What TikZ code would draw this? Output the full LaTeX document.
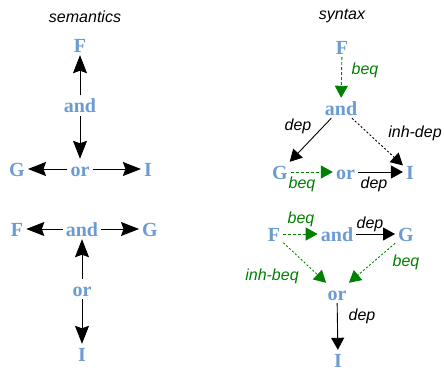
\documentclass[tikz,border=0pt]{standalone}
\usepackage{fontspec}
\setmainfont{Liberation Serif}
\setsansfont{Liberation Sans}
\usetikzlibrary{arrows.meta}
\definecolor{nodeblue}{RGB}{108,155,210}
\definecolor{beqgreen}{RGB}{0,128,0}
\tikzset{
  term/.style={anchor=base, inner sep=3pt, text height=14pt, text depth=0pt,
    text=nodeblue, font=\fontsize{20}{24}\selectfont\bfseries},
  lab/.style={anchor=base, inner sep=0pt, font=\sffamily\itshape\fontsize{16}{19}\selectfont},
  glab/.style={lab, text=beqgreen},
  sem/.style={line width=0.9pt, -{Stealth[length=18pt, width=14pt, inset=2.5pt]}},
  syn/.style={line width=0.9pt, -{Triangle[length=12pt, width=13pt]}},
  gsyn/.style={syn, beqgreen, dash pattern=on 3pt off 2pt},
  dsyn/.style={syn, dash pattern=on 2pt off 2pt}
}
\begin{document}
\begin{tikzpicture}[x=1pt, y=-1pt]
\useasboundingbox (0,0) rectangle (444,370);
% titles
\node[lab] (tsem) at (85,22) {semantics};
\node[lab] (tsyn) at (342,19) {syntax};
% semantics top
\node[term] (sF) at (80,52) {F};
\node[term] (sand) at (80,112.5) {and};
\node[term] (sor) at (80,176) {or};
\node[term] (sG) at (17,176) {G};
\node[term] (sI) at (148,176) {I};
\draw[sem] (sand) -- (sF);
\draw[sem] (sand) -- (sor);
\draw[sem] (sor) -- (sG);
\draw[sem] (sor) -- (sI);
% semantics bottom
\node[term] (bF) at (17,236) {F};
\node[term] (band) at (82,236) {and};
\node[term] (bG) at (150,236) {G};
\node[term] (bor) at (82,296) {or};
\node[term] (bI) at (82,361) {I};
\draw[sem] (band) -- (bF);
\draw[sem] (band) -- (bG);
\draw[sem] (bor) -- (band);
\draw[sem] (bor) -- (bI);
% syntax top
\node[term] (yF) at (342,54) {F};
\node[term] (yand) at (341,115) {and};
\node[term] (yG) at (280,179) {G};
\node[term] (yor) at (345.5,179) {or};
\node[term] (yI) at (410,179) {I};
\draw[gsyn] (yF) -- (yand);
\draw[syn] (yand) -- (yG);
\draw[dsyn] (yand) -- (yI);
\draw[gsyn] (yG) -- (yor);
\draw[syn] (yor) -- (yI);
\node[glab] (l1) at (365,74) {beq};
\node[lab] (l2) at (298,130) {dep};
\node[lab] (l3) at (415,137) {inh-dep};
\node[glab] (l4) at (302,188) {beq};
\node[lab] (l5) at (374,188) {dep};
% syntax bottom
\node[term] (zF) at (274,241) {F};
\node[term] (zand) at (337,241) {and};
\node[term] (zG) at (406,241) {G};
\node[term] (zor) at (337,300) {or};
\node[term] (zI) at (338,367) {I};
\draw[gsyn] (zF) -- (zand);
\draw[syn] (zand) -- (zG);
\draw[gsyn, dash pattern=on 2pt off 2pt] (zF) -- (zor);
\draw[gsyn, dash pattern=on 2pt off 2pt] (zG) -- (zor);
\draw[syn] (zor) -- (zI);
\node[glab] (m1) at (301,223) {beq};
\node[lab] (m2) at (370,228) {dep};
\node[glab] (m3) at (272,280) {inh-beq};
\node[glab] (m4) at (406,266) {beq};
\node[lab] (m5) at (362,320) {dep};
\end{tikzpicture}
\end{document}
